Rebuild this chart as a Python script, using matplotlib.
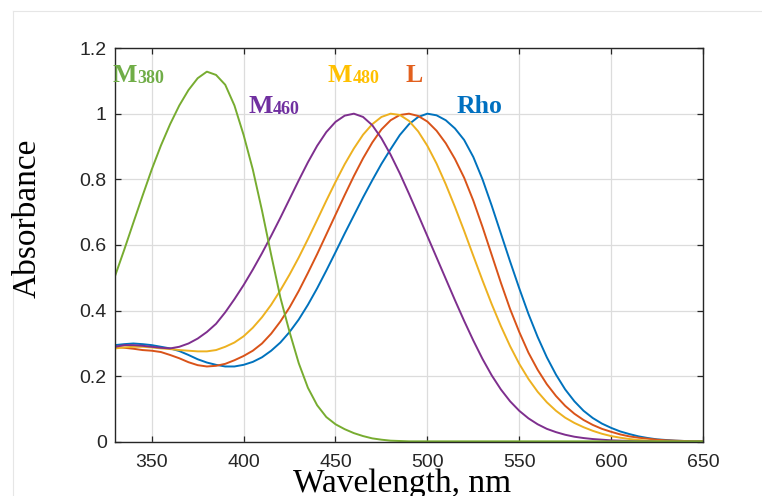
import matplotlib.pyplot as plt
from matplotlib.lines import Line2D

# wavelength grid (nm) shared by all spectra
wavelength = list(range(330, 655, 5))

m380 = [0.505, 0.585, 0.668, 0.75, 0.83, 0.903, 0.968, 1.025, 1.072, 1.108,
        1.128, 1.118, 1.088, 1.025, 0.935, 0.83, 0.705, 0.57, 0.44, 0.335,
        0.24, 0.165, 0.112, 0.076, 0.054, 0.039, 0.027, 0.018, 0.011, 0.007,
        0.004, 0.003, 0.002, 0.002, 0.002, 0.002, 0.002, 0.002, 0.002, 0.002,
        0.002, 0.002, 0.002, 0.002, 0.002, 0.002, 0.002, 0.002, 0.002, 0.002,
        0.002, 0.002, 0.002, 0.002, 0.002, 0.002, 0.002, 0.002, 0.002, 0.002,
        0.002, 0.002, 0.002, 0.002, 0.002]

m460 = [0.29, 0.295, 0.295, 0.293, 0.29, 0.287, 0.285, 0.29, 0.30, 0.315,
        0.335, 0.36, 0.395, 0.435, 0.478, 0.525, 0.575, 0.628, 0.683, 0.74,
        0.797, 0.852, 0.902, 0.944, 0.975, 0.994, 1.0, 0.99, 0.965, 0.925,
        0.875, 0.818, 0.756, 0.692, 0.627, 0.562, 0.497, 0.432, 0.369, 0.309,
        0.253, 0.203, 0.16, 0.124, 0.095, 0.072, 0.054, 0.04, 0.03, 0.022,
        0.016, 0.012, 0.009, 0.007, 0.005, 0.004, 0.003, 0.002, 0.002, 0.001,
        0.001, 0.001, 0.001, 0.001, 0.001]

m480 = [0.285, 0.288, 0.29, 0.29, 0.288, 0.285, 0.283, 0.28, 0.278, 0.276,
        0.276, 0.28, 0.29, 0.303, 0.322, 0.348, 0.38, 0.418, 0.462, 0.51,
        0.562, 0.618, 0.676, 0.735, 0.792, 0.846, 0.894, 0.936, 0.968, 0.99,
        1.0, 0.996, 0.978, 0.946, 0.902, 0.848, 0.785, 0.716, 0.643, 0.567,
        0.492, 0.42, 0.353, 0.292, 0.238, 0.192, 0.153, 0.121, 0.095, 0.074,
        0.058, 0.045, 0.034, 0.025, 0.018, 0.013, 0.009, 0.006, 0.004, 0.003,
        0.002, 0.001, 0.001, 0.001, 0.001]

l_cone = [0.29, 0.287, 0.284, 0.28, 0.278, 0.274, 0.265, 0.255, 0.243, 0.234,
          0.23, 0.232, 0.238, 0.249, 0.262, 0.278, 0.30, 0.33, 0.367, 0.41,
          0.46, 0.515, 0.572, 0.632, 0.692, 0.752, 0.81, 0.864, 0.912, 0.952,
          0.98, 0.996, 1.0, 0.993, 0.976, 0.948, 0.91, 0.862, 0.805, 0.735,
          0.655, 0.57, 0.485, 0.405, 0.335, 0.272, 0.22, 0.176, 0.14, 0.11,
          0.086, 0.067, 0.052, 0.04, 0.031, 0.023, 0.017, 0.013, 0.01, 0.007,
          0.005, 0.004, 0.003, 0.002, 0.002]

rho = [0.295, 0.298, 0.30, 0.298, 0.295, 0.29, 0.285, 0.277, 0.265, 0.252,
       0.242, 0.235, 0.23, 0.23, 0.235, 0.244, 0.258, 0.278, 0.303, 0.335,
       0.373, 0.418, 0.468, 0.522, 0.578, 0.635, 0.69, 0.745, 0.797, 0.847,
       0.892, 0.935, 0.968, 0.99, 1.0, 0.995, 0.98, 0.955, 0.92, 0.868,
       0.80, 0.72, 0.635, 0.55, 0.468, 0.39, 0.32, 0.258, 0.205, 0.16,
       0.124, 0.095, 0.073, 0.056, 0.043, 0.032, 0.024, 0.017, 0.012, 0.008,
       0.006, 0.004, 0.003, 0.002, 0.002]

x_ticks = [350, 400, 450, 500, 550, 600, 650]
y_ticks = [0, 0.2, 0.4, 0.6, 0.8, 1.0, 1.2]
y_tick_labels = ["0", "0.2", "0.4", "0.6", "0.8", "1", "1.2"]

# (series, line colour, label colour, main text, subscript, label x, label y)
series = [
    (rho, "#0072BD", "#0070C0", "Rho", "", 515.8, 1.002),
    (l_cone, "#D95319", "#E2601E", "L", "", 488.1, 1.097),
    (m480, "#EDB120", "#FFC000", "M", "480", 445.9, 1.097),
    (m460, "#7E2F8E", "#7030A0", "M", "460", 402.5, 1.002),
    (m380, "#77AC30", "#70AD47", "M", "380", 328.9, 1.097),
]

fig = plt.figure(figsize=(7.62, 4.96), dpi=100)
ax = fig.add_axes([0.1509, 0.1089, 0.7717, 0.7943])

for values, line_col, text_col, main, sub, lx, ly in series:
    ax.plot(wavelength, values, color=line_col, lw=1.4)
    t = ax.text(lx, ly, main, color=text_col, fontsize=18.5, fontweight="bold",
                family="Liberation Serif", va="baseline", ha="left")
    if sub:
        ax.annotate(sub, xy=(1, 0), xycoords=t, va="bottom", ha="left",
                    color=text_col, fontsize=13, fontweight="bold",
                    family="Liberation Serif")

ax.set_xlim(330, 650)
ax.set_ylim(0, 1.2)
ax.set_xticks(x_ticks)
ax.set_yticks(y_ticks)
ax.set_yticklabels(y_tick_labels)
ax.grid(True, color="#dcdcdc", lw=0.9)
ax.set_axisbelow(True)

for s in ax.spines.values():
    s.set_color("#262626")
    s.set_linewidth(1.0)
ax.tick_params(direction="in", length=4, width=0.9, color="#262626",
               top=True, right=True, labelsize=14, labelcolor="#262626")
ax.tick_params(axis="x", pad=9)
ax.tick_params(axis="y", pad=6)
for lab in ax.get_xticklabels() + ax.get_yticklabels():
    lab.set_family("Liberation Sans")

fig.text(0.527, 0.0087, "Wavelength, nm", family="Liberation Serif",
         fontsize=24, ha="center", va="baseline")
fig.text(0.0354, 0.5605, "Absorbance", family="Liberation Serif",
         fontsize=24, rotation=90, ha="center", va="center")

# faint frame around the picture
fig.add_artist(Line2D([13 / 762, 1], [1 - 11 / 496, 1 - 11 / 496],
                      transform=fig.transFigure, color="#e6e6e6", lw=0.8))
fig.add_artist(Line2D([13 / 762, 13 / 762], [0, 1 - 11 / 496],
                      transform=fig.transFigure, color="#e6e6e6", lw=0.8))

fig.savefig("out.png", dpi=100)
